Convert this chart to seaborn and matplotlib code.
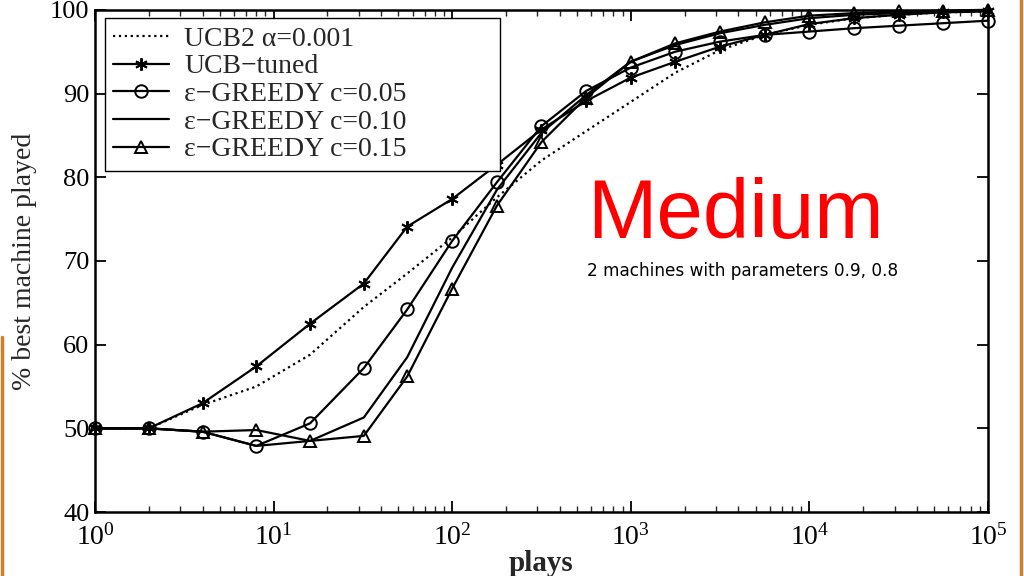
import matplotlib
matplotlib.use("Agg")
import matplotlib.pyplot as plt
import matplotlib.ticker as ticker
from matplotlib.lines import Line2D
import seaborn as sns
import pandas as pd

# plays (x) and % best machine played for each policy
plays = [1, 2, 4, 8, 16, 32, 56, 100, 178, 316, 562, 1000, 1778, 3162,
         5623, 10000, 17783, 31623, 56234, 100000]
ucb2 = [50, 50, 52.8, 55.0, 58.8, 64.5, 68.5, 72.8, 77.6, 82.0, 85.5, 89.0,
        92.5, 95.2, 97.0, 98.2, 99.0, 99.4, 99.7, 99.8]
ucb_tuned = [50, 50, 53.0, 57.4, 62.5, 67.3, 74.1, 77.4, 81.5, 85.7, 89.1,
             91.9, 93.8, 95.6, 97.0, 98.3, 99.0, 99.4, 99.7, 99.8]
eps05 = [50, 50, 49.6, 47.9, 50.6, 57.2, 64.2, 72.4, 79.4, 86.1, 90.3, 93.1,
         95.0, 96.2, 97.0, 97.4, 97.8, 98.1, 98.4, 98.7]
eps10 = [50, 50, 49.6, 47.9, 48.5, 51.3, 58.5, 69.2, 78.5, 85.3, 89.8, 93.8,
         95.8, 97.2, 98.2, 99.0, 99.4, 99.6, 99.8, 99.9]
eps15 = [50, 50, 49.6, 49.8, 48.5, 49.1, 56.2, 66.7, 76.6, 84.2, 89.5, 93.8,
         96.0, 97.4, 98.5, 99.3, 99.6, 99.8, 99.9, 100]

labels = ["UCB2 \u03b1=0.001", "UCB\u2212tuned", "\u03b5\u2212GREEDY c=0.05",
          "\u03b5\u2212GREEDY c=0.10", "\u03b5\u2212GREEDY c=0.15"]

sns.set_style("ticks")
plt.rcParams['font.family'] = ['Liberation Serif', 'DejaVu Serif']
plt.rcParams['mathtext.fontset'] = 'stix'

df = pd.DataFrame({"plays": plays, labels[0]: ucb2, labels[1]: ucb_tuned,
                   labels[2]: eps05, labels[3]: eps10, labels[4]: eps15})

styles = [
    dict(linestyle=":", marker=None),
    dict(linestyle="-", marker=(6, 2, 0), markersize=9),
    dict(linestyle="-", marker="o", markersize=9),
    dict(linestyle="-", marker=None),
    dict(linestyle="-", marker="^", markersize=9),
]

fig = plt.figure(figsize=(10.24, 5.76), dpi=100)
ax = fig.add_axes([0.0928, 0.111, 0.872, 0.872])

for lab, st in zip(labels, styles):
    sns.lineplot(data=df, x="plays", y=lab, ax=ax, color="black", linewidth=1.6,
                 markerfacecolor="none", markeredgecolor="black",
                 markeredgewidth=1.4, label=lab, clip_on=False, **st)

ax.set_xscale("log")
ax.set_xlim(1, 1e5)
ax.set_ylim(40, 100)
ax.set_yticks(range(40, 101, 10))
ax.xaxis.set_major_locator(ticker.LogLocator(base=10, numticks=10))
ax.xaxis.set_minor_locator(ticker.LogLocator(base=10, subs=range(2, 10), numticks=20))
ax.xaxis.set_minor_formatter(ticker.NullFormatter())

ax.tick_params(axis="both", which="major", direction="in", length=8, width=1.3,
               top=True, right=True, labelsize=19, pad=4, colors="black")
ax.tick_params(axis="x", which="major", labelsize=20, pad=9)
ax.tick_params(axis="x", which="minor", direction="in", length=4, width=1,
               top=True)
for s in ax.spines.values():
    s.set_linewidth(1.8)
    s.set_color("black")

ax.set_xlabel("plays", fontsize=21, fontweight="bold", labelpad=-1)
ax.set_ylabel("% best machine played", fontsize=20, labelpad=9)

leg = ax.legend(loc="upper left", bbox_to_anchor=(0.011, 0.655, 0.442, 0.329),
                mode="expand", borderaxespad=0,
                fontsize=20, frameon=True, fancybox=False, edgecolor="black",
                handlelength=2.0, labelspacing=0.08, borderpad=0.3,
                handletextpad=0.55)
leg.get_frame().set_linewidth(1.0)
leg.get_frame().set_alpha(1)

fig.text(0.573, 0.587, "Medium", color="#ff0000", fontsize=60,
         family="Liberation Sans", ha="left", va="baseline")
fig.text(0.573, 0.521, "2 machines with parameters 0.9, 0.8", color="black",
         fontsize=12.2, family="DejaVu Sans", ha="left", va="baseline")

# slide frame edges
fig.add_artist(Line2D([0.9966, 0.9966], [0, 1], transform=fig.transFigure,
                      color="#cf7d2e", linewidth=2.5))
fig.add_artist(Line2D([0.002, 0.002], [0, 0.415], transform=fig.transFigure,
                      color="#cf7d2e", linewidth=2.5))

fig.savefig("out.png", dpi=100)
